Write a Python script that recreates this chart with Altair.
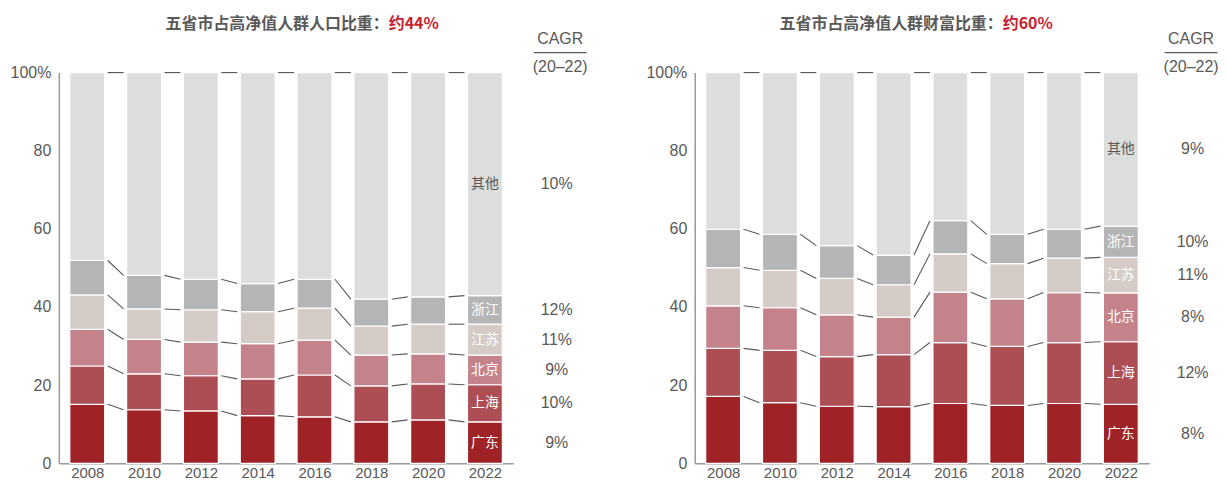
import altair as alt
import pandas as pd

years = ["2008", "2010", "2012", "2014", "2016", "2018", "2020", "2022"]
regions = ["广东", "上海", "北京", "江苏", "浙江", "其他"]
colors = ["#9E2226", "#AD4E55", "#C4838A", "#D5CCC7", "#B4B5B4", "#DCDDDD"]

# 人口比重 (%)
pop_gd = [15.1, 13.7, 13.4, 12.2, 11.9, 10.6, 11.1, 10.6]
pop_sh = [9.8, 9.2, 9.0, 9.4, 10.7, 9.2, 9.2, 9.5]
pop_bj = [9.4, 8.8, 8.6, 9.0, 8.9, 7.9, 7.7, 7.6]
pop_js = [8.8, 7.8, 8.3, 8.2, 8.2, 7.4, 7.6, 7.9]
pop_zj = [8.8, 8.6, 7.8, 7.2, 7.4, 6.9, 7.0, 7.3]
pop_other = [48.1, 51.9, 52.9, 54.0, 52.9, 58.0, 57.4, 57.1]
pop_cagr = ["9%", "10%", "9%", "11%", "12%", "10%"]

# 财富比重 (%)
wealth_gd = [17.1, 15.5, 14.6, 14.5, 15.3, 14.8, 15.3, 15.1]
wealth_sh = [12.3, 13.4, 12.7, 13.3, 15.6, 15.1, 15.6, 16.0]
wealth_bj = [10.9, 10.9, 10.7, 9.6, 12.9, 12.2, 12.8, 12.5]
wealth_js = [9.8, 9.6, 9.3, 8.3, 9.8, 9.0, 8.8, 9.1]
wealth_zj = [9.8, 9.2, 8.4, 7.6, 8.5, 7.5, 7.4, 8.0]
wealth_other = [40.1, 41.4, 44.3, 46.7, 37.9, 41.4, 40.1, 39.3]
wealth_cagr = ["8%", "12%", "8%", "11%", "10%", "9%"]

title_pop = ("五省市占高净值人群人口比重：", "约44%")
title_wealth = ("五省市占高净值人群财富比重：", "约60%")
cagr_head = ["CAGR", "(20–22)"]

W, H = 456, 392
BAR = 35
STEP = W / len(years)
CONN = (BAR / 2 + 3) / STEP

CJK = "Noto Sans CJK SC"
LAT = "Liberation Sans"
GRAY = "#595959"
RED = "#C8202F"


def panel(series, cagr, title, split_x, head_dx):
    rows = []
    for i, yr in enumerate(years):
        base = 0.0
        for k, r in enumerate(regions):
            v = series[k][i]
            rows.append(dict(pos=i, year=yr, region=r, lo=base, hi=base + v,
                             mid=base + v / 2, cagr=cagr[k]))
            base += v
    df = pd.DataFrame(rows)

    conn = []
    for i in range(len(years) - 1):
        for k in range(len(regions)):
            a = df[(df.pos == i) & (df.region == regions[k])].hi.iloc[0]
            b = df[(df.pos == i + 1) & (df.region == regions[k])].hi.iloc[0]
            conn.append(dict(x0=i + CONN, x1=i + 1 - CONN, y0=a, y1=b))
    cdf = pd.DataFrame(conn)

    label_expr = "[" + ",".join("'%s'" % y for y in years) + "][datum.value]"
    xs = alt.Scale(domain=[-0.5, len(years) - 0.5], nice=False, zero=False, padding=0)
    ys = alt.Scale(domain=[0, 100], nice=False, padding=0)

    bars = alt.Chart(df).mark_bar(size=BAR, stroke="white", strokeWidth=1.2).encode(
        x=alt.X("pos:Q", scale=xs, title=None,
                axis=alt.Axis(values=list(range(len(years))), labelExpr=label_expr,
                              labelPadding=2, labelFontSize=15)),
        y=alt.Y("lo:Q", scale=ys, title=None,
                axis=alt.Axis(values=[0, 20, 40, 60, 80, 100],
                              labelExpr="datum.value == 100 ? '100%' : datum.label",
                              labelPadding=8, labelFontSize=16)),
        y2="hi:Q",
        color=alt.Color("region:N", scale=alt.Scale(domain=regions, range=colors), legend=None),
    )

    rules = alt.Chart(cdf).mark_rule(color=GRAY, strokeWidth=1.1).encode(
        x=alt.X("x0:Q", title=None), x2="x1:Q",
        y=alt.Y("y0:Q", title=None), y2="y1:Q",
    )

    last = df[df.pos == len(years) - 1]
    seg_labels = alt.Chart(last).mark_text(font=CJK, fontSize=14).encode(
        x=alt.X("pos:Q", title=None),
        y=alt.Y("mid:Q", title=None),
        text="region:N",
        color=alt.condition(alt.datum.region == "其他", alt.value(GRAY), alt.value("white")),
    )

    cagr_txt = alt.Chart(last).mark_text(font=LAT, fontSize=16, color=GRAY).encode(
        x=alt.value(W + 43.5),
        y=alt.Y("mid:Q", title=None),
        text="cagr:N",
    )

    head_df = pd.DataFrame({"t": cagr_head})
    head1 = alt.Chart(head_df).transform_filter(alt.datum.t == cagr_head[0]).mark_text(
        font=LAT, fontSize=16, color=GRAY).encode(
        x=alt.value(W + head_dx), y=alt.value(-33.7), text="t:N")
    head2 = alt.Chart(head_df).transform_filter(alt.datum.t == cagr_head[1]).mark_text(
        font=LAT, fontSize=16, color=GRAY).encode(
        x=alt.value(W + head_dx), y=alt.value(-5.7), text="t:N")
    head_line = alt.Chart(head_df).transform_filter(alt.datum.t == cagr_head[0]).mark_rule(
        color=GRAY, strokeWidth=1.2).encode(
        x=alt.value(W + head_dx - 26.5), x2=alt.value(W + head_dx + 26.5), y=alt.value(-20))

    tdf = pd.DataFrame({"a": [title[0]], "b": [title[1]]})
    t1 = alt.Chart(tdf).mark_text(font=CJK, fontSize=16, fontWeight="bold", color=GRAY,
                                  align="right").encode(
        x=alt.value(split_x), y=alt.value(-48.5), text="a:N")
    t2 = alt.Chart(tdf).mark_text(font=CJK, fontSize=16, fontWeight="bold", color=RED,
                                  align="left").encode(
        x=alt.value(split_x), y=alt.value(-48.5), text="b:N")

    return alt.layer(rules, bars, seg_labels, cagr_txt, head1, head2, head_line, t1, t2).properties(
        width=W, height=H)


left = panel([pop_gd, pop_sh, pop_bj, pop_js, pop_zj, pop_other], pop_cagr, title_pop, 331, 47)
right = panel([wealth_gd, wealth_sh, wealth_bj, wealth_js, wealth_zj, wealth_other],
              wealth_cagr, title_wealth, 309, 42)

chart = alt.hconcat(left, right, spacing=182, bounds="flush").properties(
    padding={"left": 2, "top": 7, "right": 0, "bottom": 0}
).configure_view(stroke=None).configure_axis(
    domainColor="#9A9A9A", domainWidth=1.5, ticks=False, grid=False,
    labelColor=GRAY, labelFont=LAT, labelFontSize=16,
)

chart.save("out.html", embed_options={"renderer": "svg", "actions": False})
